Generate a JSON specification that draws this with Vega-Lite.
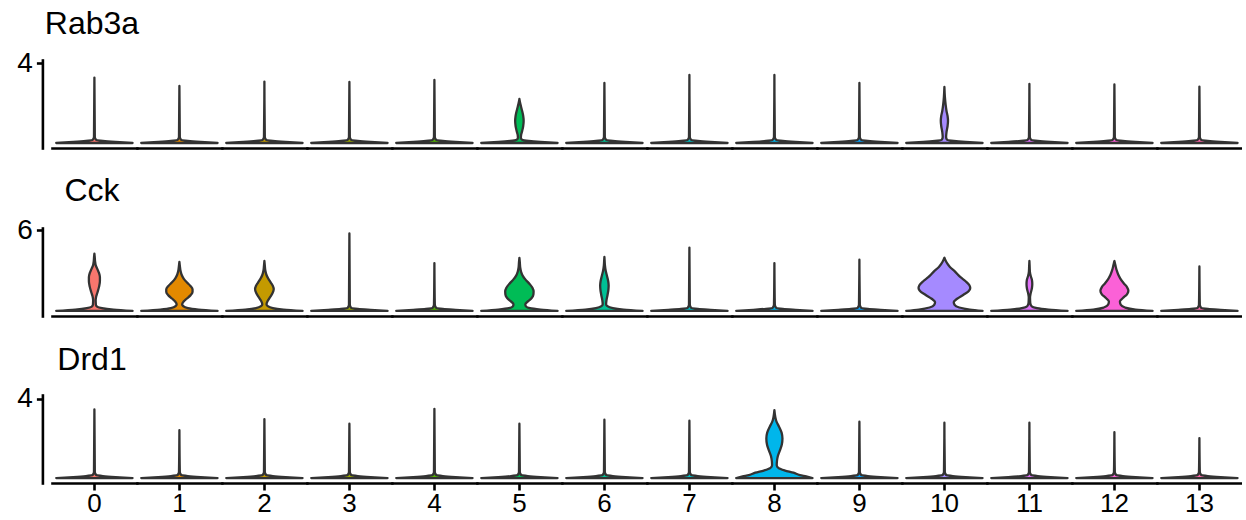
{
 "$schema": "https://vega.github.io/schema/vega-lite/v6.json",
 "padding": {"left": 16, "top": 8, "right": 0, "bottom": 2},
 "background": "white",
 "config": {"view": {"stroke": null}, "font": "Liberation Sans",
  "axis": {"labelFont": "Liberation Sans", "labelColor": "black", "domainColor": "black", "tickColor": "black", "grid": false, "title": null, "domainCap": "square"}},
 "spacing": 27,
 "datasets": {"violins": [
{"gene":"Rab3a","cluster":0,"expr":0,"width":0.9},{"gene":"Rab3a","cluster":0,"expr":0.05,"width":0.5},{"gene":"Rab3a","cluster":0,"expr":0.1,"width":0.2},{"gene":"Rab3a","cluster":0,"expr":0.16,"width":0.04},{"gene":"Rab3a","cluster":0,"expr":0.3,"width":0.01},{"gene":"Rab3a","cluster":0,"expr":3.27,"width":0},
{"gene":"Rab3a","cluster":1,"expr":0,"width":0.9},{"gene":"Rab3a","cluster":1,"expr":0.05,"width":0.5},{"gene":"Rab3a","cluster":1,"expr":0.1,"width":0.2},{"gene":"Rab3a","cluster":1,"expr":0.16,"width":0.04},{"gene":"Rab3a","cluster":1,"expr":0.3,"width":0.01},{"gene":"Rab3a","cluster":1,"expr":2.85,"width":0},
{"gene":"Rab3a","cluster":2,"expr":0,"width":0.9},{"gene":"Rab3a","cluster":2,"expr":0.05,"width":0.5},{"gene":"Rab3a","cluster":2,"expr":0.1,"width":0.2},{"gene":"Rab3a","cluster":2,"expr":0.16,"width":0.04},{"gene":"Rab3a","cluster":2,"expr":0.3,"width":0.01},{"gene":"Rab3a","cluster":2,"expr":3.07,"width":0},
{"gene":"Rab3a","cluster":3,"expr":0,"width":0.9},{"gene":"Rab3a","cluster":3,"expr":0.05,"width":0.5},{"gene":"Rab3a","cluster":3,"expr":0.1,"width":0.2},{"gene":"Rab3a","cluster":3,"expr":0.16,"width":0.04},{"gene":"Rab3a","cluster":3,"expr":0.3,"width":0.01},{"gene":"Rab3a","cluster":3,"expr":3.05,"width":0},
{"gene":"Rab3a","cluster":4,"expr":0,"width":0.9},{"gene":"Rab3a","cluster":4,"expr":0.05,"width":0.5},{"gene":"Rab3a","cluster":4,"expr":0.1,"width":0.2},{"gene":"Rab3a","cluster":4,"expr":0.16,"width":0.04},{"gene":"Rab3a","cluster":4,"expr":0.3,"width":0.01},{"gene":"Rab3a","cluster":4,"expr":3.15,"width":0},
{"gene":"Rab3a","cluster":5,"expr":0,"width":0.9},{"gene":"Rab3a","cluster":5,"expr":0.05,"width":0.5},{"gene":"Rab3a","cluster":5,"expr":0.1,"width":0.22},{"gene":"Rab3a","cluster":5,"expr":0.17,"width":0.06},{"gene":"Rab3a","cluster":5,"expr":0.25,"width":0.035},{"gene":"Rab3a","cluster":5,"expr":0.4,"width":0.04},{"gene":"Rab3a","cluster":5,"expr":0.6,"width":0.065},{"gene":"Rab3a","cluster":5,"expr":0.85,"width":0.09},{"gene":"Rab3a","cluster":5,"expr":1.1,"width":0.1},{"gene":"Rab3a","cluster":5,"expr":1.35,"width":0.09},{"gene":"Rab3a","cluster":5,"expr":1.6,"width":0.065},{"gene":"Rab3a","cluster":5,"expr":1.85,"width":0.035},{"gene":"Rab3a","cluster":5,"expr":2.0,"width":0.018},{"gene":"Rab3a","cluster":5,"expr":2.2,"width":0},
{"gene":"Rab3a","cluster":6,"expr":0,"width":0.9},{"gene":"Rab3a","cluster":6,"expr":0.05,"width":0.5},{"gene":"Rab3a","cluster":6,"expr":0.1,"width":0.2},{"gene":"Rab3a","cluster":6,"expr":0.16,"width":0.04},{"gene":"Rab3a","cluster":6,"expr":0.3,"width":0.01},{"gene":"Rab3a","cluster":6,"expr":3.0,"width":0},
{"gene":"Rab3a","cluster":7,"expr":0,"width":0.9},{"gene":"Rab3a","cluster":7,"expr":0.05,"width":0.5},{"gene":"Rab3a","cluster":7,"expr":0.1,"width":0.2},{"gene":"Rab3a","cluster":7,"expr":0.16,"width":0.04},{"gene":"Rab3a","cluster":7,"expr":0.3,"width":0.01},{"gene":"Rab3a","cluster":7,"expr":3.4,"width":0},
{"gene":"Rab3a","cluster":8,"expr":0,"width":0.9},{"gene":"Rab3a","cluster":8,"expr":0.05,"width":0.5},{"gene":"Rab3a","cluster":8,"expr":0.1,"width":0.2},{"gene":"Rab3a","cluster":8,"expr":0.16,"width":0.04},{"gene":"Rab3a","cluster":8,"expr":0.3,"width":0.01},{"gene":"Rab3a","cluster":8,"expr":3.4,"width":0},
{"gene":"Rab3a","cluster":9,"expr":0,"width":0.9},{"gene":"Rab3a","cluster":9,"expr":0.05,"width":0.5},{"gene":"Rab3a","cluster":9,"expr":0.1,"width":0.2},{"gene":"Rab3a","cluster":9,"expr":0.16,"width":0.04},{"gene":"Rab3a","cluster":9,"expr":0.3,"width":0.01},{"gene":"Rab3a","cluster":9,"expr":3.0,"width":0},
{"gene":"Rab3a","cluster":10,"expr":0,"width":0.9},{"gene":"Rab3a","cluster":10,"expr":0.05,"width":0.5},{"gene":"Rab3a","cluster":10,"expr":0.1,"width":0.22},{"gene":"Rab3a","cluster":10,"expr":0.17,"width":0.06},{"gene":"Rab3a","cluster":10,"expr":0.3,"width":0.04},{"gene":"Rab3a","cluster":10,"expr":0.55,"width":0.05},{"gene":"Rab3a","cluster":10,"expr":0.85,"width":0.075},{"gene":"Rab3a","cluster":10,"expr":1.1,"width":0.085},{"gene":"Rab3a","cluster":10,"expr":1.35,"width":0.075},{"gene":"Rab3a","cluster":10,"expr":1.6,"width":0.05},{"gene":"Rab3a","cluster":10,"expr":1.9,"width":0.03},{"gene":"Rab3a","cluster":10,"expr":2.3,"width":0.012},{"gene":"Rab3a","cluster":10,"expr":2.8,"width":0},
{"gene":"Rab3a","cluster":11,"expr":0,"width":0.9},{"gene":"Rab3a","cluster":11,"expr":0.05,"width":0.5},{"gene":"Rab3a","cluster":11,"expr":0.1,"width":0.2},{"gene":"Rab3a","cluster":11,"expr":0.16,"width":0.04},{"gene":"Rab3a","cluster":11,"expr":0.3,"width":0.01},{"gene":"Rab3a","cluster":11,"expr":2.95,"width":0},
{"gene":"Rab3a","cluster":12,"expr":0,"width":0.9},{"gene":"Rab3a","cluster":12,"expr":0.05,"width":0.5},{"gene":"Rab3a","cluster":12,"expr":0.1,"width":0.2},{"gene":"Rab3a","cluster":12,"expr":0.16,"width":0.04},{"gene":"Rab3a","cluster":12,"expr":0.3,"width":0.01},{"gene":"Rab3a","cluster":12,"expr":2.93,"width":0},
{"gene":"Rab3a","cluster":13,"expr":0,"width":0.9},{"gene":"Rab3a","cluster":13,"expr":0.05,"width":0.5},{"gene":"Rab3a","cluster":13,"expr":0.1,"width":0.2},{"gene":"Rab3a","cluster":13,"expr":0.16,"width":0.04},{"gene":"Rab3a","cluster":13,"expr":0.3,"width":0.01},{"gene":"Rab3a","cluster":13,"expr":2.82,"width":0},

{"gene":"Cck","cluster":0,"expr":0,"width":0.9},{"gene":"Cck","cluster":0,"expr":0.1,"width":0.45},{"gene":"Cck","cluster":0,"expr":0.2,"width":0.18},{"gene":"Cck","cluster":0,"expr":0.3,"width":0.07},{"gene":"Cck","cluster":0,"expr":0.45,"width":0.035},{"gene":"Cck","cluster":0,"expr":0.8,"width":0.03},{"gene":"Cck","cluster":0,"expr":1.1,"width":0.045},{"gene":"Cck","cluster":0,"expr":1.4,"width":0.075},{"gene":"Cck","cluster":0,"expr":1.8,"width":0.11},{"gene":"Cck","cluster":0,"expr":2.2,"width":0.13},{"gene":"Cck","cluster":0,"expr":2.5,"width":0.13},{"gene":"Cck","cluster":0,"expr":2.8,"width":0.11},{"gene":"Cck","cluster":0,"expr":3.1,"width":0.07},{"gene":"Cck","cluster":0,"expr":3.4,"width":0.03},{"gene":"Cck","cluster":0,"expr":3.7,"width":0.015},{"gene":"Cck","cluster":0,"expr":4.0,"width":0.008},{"gene":"Cck","cluster":0,"expr":4.24,"width":0},
{"gene":"Cck","cluster":1,"expr":0,"width":0.9},{"gene":"Cck","cluster":1,"expr":0.1,"width":0.45},{"gene":"Cck","cluster":1,"expr":0.2,"width":0.2},{"gene":"Cck","cluster":1,"expr":0.35,"width":0.09},{"gene":"Cck","cluster":1,"expr":0.5,"width":0.065},{"gene":"Cck","cluster":1,"expr":0.7,"width":0.1},{"gene":"Cck","cluster":1,"expr":0.9,"width":0.17},{"gene":"Cck","cluster":1,"expr":1.15,"width":0.26},{"gene":"Cck","cluster":1,"expr":1.4,"width":0.31},{"gene":"Cck","cluster":1,"expr":1.6,"width":0.31},{"gene":"Cck","cluster":1,"expr":1.85,"width":0.26},{"gene":"Cck","cluster":1,"expr":2.1,"width":0.18},{"gene":"Cck","cluster":1,"expr":2.4,"width":0.1},{"gene":"Cck","cluster":1,"expr":2.7,"width":0.05},{"gene":"Cck","cluster":1,"expr":3.0,"width":0.025},{"gene":"Cck","cluster":1,"expr":3.3,"width":0.012},{"gene":"Cck","cluster":1,"expr":3.64,"width":0},
{"gene":"Cck","cluster":2,"expr":0,"width":0.9},{"gene":"Cck","cluster":2,"expr":0.1,"width":0.45},{"gene":"Cck","cluster":2,"expr":0.2,"width":0.2},{"gene":"Cck","cluster":2,"expr":0.35,"width":0.08},{"gene":"Cck","cluster":2,"expr":0.5,"width":0.05},{"gene":"Cck","cluster":2,"expr":0.75,"width":0.08},{"gene":"Cck","cluster":2,"expr":1.0,"width":0.13},{"gene":"Cck","cluster":2,"expr":1.3,"width":0.19},{"gene":"Cck","cluster":2,"expr":1.6,"width":0.22},{"gene":"Cck","cluster":2,"expr":1.85,"width":0.2},{"gene":"Cck","cluster":2,"expr":2.1,"width":0.15},{"gene":"Cck","cluster":2,"expr":2.4,"width":0.09},{"gene":"Cck","cluster":2,"expr":2.7,"width":0.045},{"gene":"Cck","cluster":2,"expr":3.0,"width":0.022},{"gene":"Cck","cluster":2,"expr":3.35,"width":0.01},{"gene":"Cck","cluster":2,"expr":3.7,"width":0},
{"gene":"Cck","cluster":3,"expr":0,"width":0.9},{"gene":"Cck","cluster":3,"expr":0.08,"width":0.5},{"gene":"Cck","cluster":3,"expr":0.15,"width":0.2},{"gene":"Cck","cluster":3,"expr":0.24,"width":0.04},{"gene":"Cck","cluster":3,"expr":0.45,"width":0.01},{"gene":"Cck","cluster":3,"expr":5.75,"width":0},
{"gene":"Cck","cluster":4,"expr":0,"width":0.9},{"gene":"Cck","cluster":4,"expr":0.08,"width":0.5},{"gene":"Cck","cluster":4,"expr":0.15,"width":0.2},{"gene":"Cck","cluster":4,"expr":0.24,"width":0.04},{"gene":"Cck","cluster":4,"expr":0.45,"width":0.01},{"gene":"Cck","cluster":4,"expr":3.55,"width":0},
{"gene":"Cck","cluster":5,"expr":0,"width":0.9},{"gene":"Cck","cluster":5,"expr":0.1,"width":0.5},{"gene":"Cck","cluster":5,"expr":0.2,"width":0.25},{"gene":"Cck","cluster":5,"expr":0.35,"width":0.15},{"gene":"Cck","cluster":5,"expr":0.5,"width":0.14},{"gene":"Cck","cluster":5,"expr":0.7,"width":0.2},{"gene":"Cck","cluster":5,"expr":0.95,"width":0.29},{"gene":"Cck","cluster":5,"expr":1.2,"width":0.33},{"gene":"Cck","cluster":5,"expr":1.45,"width":0.335},{"gene":"Cck","cluster":5,"expr":1.7,"width":0.31},{"gene":"Cck","cluster":5,"expr":2.0,"width":0.24},{"gene":"Cck","cluster":5,"expr":2.3,"width":0.15},{"gene":"Cck","cluster":5,"expr":2.6,"width":0.08},{"gene":"Cck","cluster":5,"expr":2.9,"width":0.04},{"gene":"Cck","cluster":5,"expr":3.2,"width":0.02},{"gene":"Cck","cluster":5,"expr":3.6,"width":0.01},{"gene":"Cck","cluster":5,"expr":3.94,"width":0},
{"gene":"Cck","cluster":6,"expr":0,"width":0.9},{"gene":"Cck","cluster":6,"expr":0.1,"width":0.45},{"gene":"Cck","cluster":6,"expr":0.2,"width":0.2},{"gene":"Cck","cluster":6,"expr":0.35,"width":0.07},{"gene":"Cck","cluster":6,"expr":0.5,"width":0.04},{"gene":"Cck","cluster":6,"expr":0.8,"width":0.05},{"gene":"Cck","cluster":6,"expr":1.2,"width":0.075},{"gene":"Cck","cluster":6,"expr":1.6,"width":0.095},{"gene":"Cck","cluster":6,"expr":1.9,"width":0.1},{"gene":"Cck","cluster":6,"expr":2.2,"width":0.09},{"gene":"Cck","cluster":6,"expr":2.6,"width":0.06},{"gene":"Cck","cluster":6,"expr":3.0,"width":0.03},{"gene":"Cck","cluster":6,"expr":3.4,"width":0.012},{"gene":"Cck","cluster":6,"expr":3.7,"width":0.006},{"gene":"Cck","cluster":6,"expr":4.0,"width":0},
{"gene":"Cck","cluster":7,"expr":0,"width":0.9},{"gene":"Cck","cluster":7,"expr":0.08,"width":0.5},{"gene":"Cck","cluster":7,"expr":0.15,"width":0.2},{"gene":"Cck","cluster":7,"expr":0.24,"width":0.04},{"gene":"Cck","cluster":7,"expr":0.45,"width":0.01},{"gene":"Cck","cluster":7,"expr":4.7,"width":0},
{"gene":"Cck","cluster":8,"expr":0,"width":0.9},{"gene":"Cck","cluster":8,"expr":0.08,"width":0.5},{"gene":"Cck","cluster":8,"expr":0.15,"width":0.2},{"gene":"Cck","cluster":8,"expr":0.24,"width":0.04},{"gene":"Cck","cluster":8,"expr":0.45,"width":0.01},{"gene":"Cck","cluster":8,"expr":3.55,"width":0},
{"gene":"Cck","cluster":9,"expr":0,"width":0.9},{"gene":"Cck","cluster":9,"expr":0.08,"width":0.5},{"gene":"Cck","cluster":9,"expr":0.15,"width":0.2},{"gene":"Cck","cluster":9,"expr":0.24,"width":0.04},{"gene":"Cck","cluster":9,"expr":0.45,"width":0.01},{"gene":"Cck","cluster":9,"expr":3.8,"width":0},
{"gene":"Cck","cluster":10,"expr":0,"width":0.9},{"gene":"Cck","cluster":10,"expr":0.1,"width":0.6},{"gene":"Cck","cluster":10,"expr":0.25,"width":0.35},{"gene":"Cck","cluster":10,"expr":0.45,"width":0.24},{"gene":"Cck","cluster":10,"expr":0.65,"width":0.22},{"gene":"Cck","cluster":10,"expr":0.9,"width":0.3},{"gene":"Cck","cluster":10,"expr":1.2,"width":0.45},{"gene":"Cck","cluster":10,"expr":1.5,"width":0.58},{"gene":"Cck","cluster":10,"expr":1.7,"width":0.61},{"gene":"Cck","cluster":10,"expr":1.9,"width":0.59},{"gene":"Cck","cluster":10,"expr":2.2,"width":0.5},{"gene":"Cck","cluster":10,"expr":2.5,"width":0.38},{"gene":"Cck","cluster":10,"expr":2.95,"width":0.24},{"gene":"Cck","cluster":10,"expr":3.25,"width":0.13},{"gene":"Cck","cluster":10,"expr":3.5,"width":0.07},{"gene":"Cck","cluster":10,"expr":3.75,"width":0.025},{"gene":"Cck","cluster":10,"expr":3.94,"width":0},
{"gene":"Cck","cluster":11,"expr":0,"width":0.9},{"gene":"Cck","cluster":11,"expr":0.1,"width":0.45},{"gene":"Cck","cluster":11,"expr":0.2,"width":0.18},{"gene":"Cck","cluster":11,"expr":0.35,"width":0.05},{"gene":"Cck","cluster":11,"expr":0.6,"width":0.02},{"gene":"Cck","cluster":11,"expr":1.0,"width":0.015},{"gene":"Cck","cluster":11,"expr":1.3,"width":0.03},{"gene":"Cck","cluster":11,"expr":1.7,"width":0.06},{"gene":"Cck","cluster":11,"expr":2.0,"width":0.068},{"gene":"Cck","cluster":11,"expr":2.3,"width":0.06},{"gene":"Cck","cluster":11,"expr":2.6,"width":0.03},{"gene":"Cck","cluster":11,"expr":2.9,"width":0.012},{"gene":"Cck","cluster":11,"expr":3.3,"width":0.006},{"gene":"Cck","cluster":11,"expr":3.7,"width":0},
{"gene":"Cck","cluster":12,"expr":0,"width":0.9},{"gene":"Cck","cluster":12,"expr":0.1,"width":0.5},{"gene":"Cck","cluster":12,"expr":0.25,"width":0.25},{"gene":"Cck","cluster":12,"expr":0.45,"width":0.15},{"gene":"Cck","cluster":12,"expr":0.7,"width":0.13},{"gene":"Cck","cluster":12,"expr":0.95,"width":0.2},{"gene":"Cck","cluster":12,"expr":1.25,"width":0.3},{"gene":"Cck","cluster":12,"expr":1.5,"width":0.33},{"gene":"Cck","cluster":12,"expr":1.75,"width":0.3},{"gene":"Cck","cluster":12,"expr":2.05,"width":0.22},{"gene":"Cck","cluster":12,"expr":2.4,"width":0.14},{"gene":"Cck","cluster":12,"expr":2.7,"width":0.09},{"gene":"Cck","cluster":12,"expr":3.0,"width":0.055},{"gene":"Cck","cluster":12,"expr":3.3,"width":0.03},{"gene":"Cck","cluster":12,"expr":3.5,"width":0.015},{"gene":"Cck","cluster":12,"expr":3.7,"width":0},
{"gene":"Cck","cluster":13,"expr":0,"width":0.9},{"gene":"Cck","cluster":13,"expr":0.08,"width":0.5},{"gene":"Cck","cluster":13,"expr":0.15,"width":0.2},{"gene":"Cck","cluster":13,"expr":0.24,"width":0.04},{"gene":"Cck","cluster":13,"expr":0.45,"width":0.01},{"gene":"Cck","cluster":13,"expr":3.3,"width":0},

{"gene":"Drd1","cluster":0,"expr":0,"width":0.9},{"gene":"Drd1","cluster":0,"expr":0.05,"width":0.5},{"gene":"Drd1","cluster":0,"expr":0.1,"width":0.2},{"gene":"Drd1","cluster":0,"expr":0.16,"width":0.04},{"gene":"Drd1","cluster":0,"expr":0.3,"width":0.01},{"gene":"Drd1","cluster":0,"expr":3.47,"width":0},
{"gene":"Drd1","cluster":1,"expr":0,"width":0.9},{"gene":"Drd1","cluster":1,"expr":0.05,"width":0.5},{"gene":"Drd1","cluster":1,"expr":0.1,"width":0.2},{"gene":"Drd1","cluster":1,"expr":0.16,"width":0.04},{"gene":"Drd1","cluster":1,"expr":0.3,"width":0.01},{"gene":"Drd1","cluster":1,"expr":2.42,"width":0},
{"gene":"Drd1","cluster":2,"expr":0,"width":0.9},{"gene":"Drd1","cluster":2,"expr":0.05,"width":0.5},{"gene":"Drd1","cluster":2,"expr":0.1,"width":0.2},{"gene":"Drd1","cluster":2,"expr":0.16,"width":0.04},{"gene":"Drd1","cluster":2,"expr":0.3,"width":0.01},{"gene":"Drd1","cluster":2,"expr":2.98,"width":0},
{"gene":"Drd1","cluster":3,"expr":0,"width":0.9},{"gene":"Drd1","cluster":3,"expr":0.05,"width":0.5},{"gene":"Drd1","cluster":3,"expr":0.1,"width":0.2},{"gene":"Drd1","cluster":3,"expr":0.16,"width":0.04},{"gene":"Drd1","cluster":3,"expr":0.3,"width":0.01},{"gene":"Drd1","cluster":3,"expr":2.75,"width":0},
{"gene":"Drd1","cluster":4,"expr":0,"width":0.9},{"gene":"Drd1","cluster":4,"expr":0.05,"width":0.5},{"gene":"Drd1","cluster":4,"expr":0.1,"width":0.2},{"gene":"Drd1","cluster":4,"expr":0.16,"width":0.04},{"gene":"Drd1","cluster":4,"expr":0.3,"width":0.01},{"gene":"Drd1","cluster":4,"expr":3.5,"width":0},
{"gene":"Drd1","cluster":5,"expr":0,"width":0.9},{"gene":"Drd1","cluster":5,"expr":0.05,"width":0.5},{"gene":"Drd1","cluster":5,"expr":0.1,"width":0.2},{"gene":"Drd1","cluster":5,"expr":0.16,"width":0.04},{"gene":"Drd1","cluster":5,"expr":0.3,"width":0.01},{"gene":"Drd1","cluster":5,"expr":2.75,"width":0},
{"gene":"Drd1","cluster":6,"expr":0,"width":0.9},{"gene":"Drd1","cluster":6,"expr":0.05,"width":0.5},{"gene":"Drd1","cluster":6,"expr":0.1,"width":0.2},{"gene":"Drd1","cluster":6,"expr":0.16,"width":0.04},{"gene":"Drd1","cluster":6,"expr":0.3,"width":0.01},{"gene":"Drd1","cluster":6,"expr":2.95,"width":0},
{"gene":"Drd1","cluster":7,"expr":0,"width":0.9},{"gene":"Drd1","cluster":7,"expr":0.05,"width":0.5},{"gene":"Drd1","cluster":7,"expr":0.1,"width":0.2},{"gene":"Drd1","cluster":7,"expr":0.16,"width":0.04},{"gene":"Drd1","cluster":7,"expr":0.3,"width":0.01},{"gene":"Drd1","cluster":7,"expr":2.9,"width":0},
{"gene":"Drd1","cluster":8,"expr":0,"width":0.9},{"gene":"Drd1","cluster":8,"expr":0.08,"width":0.75},{"gene":"Drd1","cluster":8,"expr":0.15,"width":0.6},{"gene":"Drd1","cluster":8,"expr":0.27,"width":0.45},{"gene":"Drd1","cluster":8,"expr":0.38,"width":0.25},{"gene":"Drd1","cluster":8,"expr":0.5,"width":0.1},{"gene":"Drd1","cluster":8,"expr":0.65,"width":0.055},{"gene":"Drd1","cluster":8,"expr":0.85,"width":0.06},{"gene":"Drd1","cluster":8,"expr":1.1,"width":0.08},{"gene":"Drd1","cluster":8,"expr":1.4,"width":0.13},{"gene":"Drd1","cluster":8,"expr":1.7,"width":0.175},{"gene":"Drd1","cluster":8,"expr":2.0,"width":0.19},{"gene":"Drd1","cluster":8,"expr":2.3,"width":0.17},{"gene":"Drd1","cluster":8,"expr":2.6,"width":0.11},{"gene":"Drd1","cluster":8,"expr":2.85,"width":0.05},{"gene":"Drd1","cluster":8,"expr":3.1,"width":0.02},{"gene":"Drd1","cluster":8,"expr":3.43,"width":0},
{"gene":"Drd1","cluster":9,"expr":0,"width":0.9},{"gene":"Drd1","cluster":9,"expr":0.05,"width":0.5},{"gene":"Drd1","cluster":9,"expr":0.1,"width":0.2},{"gene":"Drd1","cluster":9,"expr":0.16,"width":0.04},{"gene":"Drd1","cluster":9,"expr":0.3,"width":0.01},{"gene":"Drd1","cluster":9,"expr":2.85,"width":0},
{"gene":"Drd1","cluster":10,"expr":0,"width":0.9},{"gene":"Drd1","cluster":10,"expr":0.05,"width":0.5},{"gene":"Drd1","cluster":10,"expr":0.1,"width":0.2},{"gene":"Drd1","cluster":10,"expr":0.16,"width":0.04},{"gene":"Drd1","cluster":10,"expr":0.3,"width":0.01},{"gene":"Drd1","cluster":10,"expr":2.8,"width":0},
{"gene":"Drd1","cluster":11,"expr":0,"width":0.9},{"gene":"Drd1","cluster":11,"expr":0.05,"width":0.5},{"gene":"Drd1","cluster":11,"expr":0.1,"width":0.2},{"gene":"Drd1","cluster":11,"expr":0.16,"width":0.04},{"gene":"Drd1","cluster":11,"expr":0.3,"width":0.01},{"gene":"Drd1","cluster":11,"expr":2.8,"width":0},
{"gene":"Drd1","cluster":12,"expr":0,"width":0.9},{"gene":"Drd1","cluster":12,"expr":0.05,"width":0.5},{"gene":"Drd1","cluster":12,"expr":0.1,"width":0.2},{"gene":"Drd1","cluster":12,"expr":0.16,"width":0.04},{"gene":"Drd1","cluster":12,"expr":0.3,"width":0.01},{"gene":"Drd1","cluster":12,"expr":2.32,"width":0},
{"gene":"Drd1","cluster":13,"expr":0,"width":0.9},{"gene":"Drd1","cluster":13,"expr":0.05,"width":0.5},{"gene":"Drd1","cluster":13,"expr":0.1,"width":0.2},{"gene":"Drd1","cluster":13,"expr":0.16,"width":0.04},{"gene":"Drd1","cluster":13,"expr":0.3,"width":0.01},{"gene":"Drd1","cluster":13,"expr":2.02,"width":0}
 ]},
 "vconcat": [
  {
   "data": {"name": "violins"},
   "transform": [{"filter": "datum.gene === 'Rab3a'"}, {"stack": "width", "groupby": ["gene", "cluster", "expr"], "offset": "center", "as": ["x0", "x1"]}],
   "title": {"text": "Rab3a", "anchor": "start", "frame": "group", "align": "center", "dx": 40, "fontSize": 32, "fontWeight": "normal", "color": "black", "font": "Liberation Sans", "offset": 8},
   "facet": {"column": {"field": "cluster", "type": "ordinal", "header": {"labels": false, "title": null}}},
   "spacing": 0,
   "spec": {
    "width": 84.8, "height": 88,
    "mark": {"type": "area", "orient": "horizontal", "interpolate": "monotone", "stroke": "#333333", "strokeWidth": 2.3, "strokeJoin": "round"},
    "encoding": {
     "y": {"field": "expr", "type": "quantitative", "scale": {"domain": [-0.25, 4.15], "nice": false, "zero": false},
      "axis": {"values": [4], "offset": 9.6, "domainWidth": 2.6, "tickWidth": 2.6, "tickSize": 6, "labelFontSize": 28, "labelPadding": 4}},
     "x": {"field": "x0", "type": "quantitative", "scale": {"domain": [-0.05, 0.95], "nice": false, "zero": false},
      "axis": {"labels": false, "ticks": false, "domainWidth": 2.6}},
     "x2": {"field": "x1"},
     "color": {"field": "cluster", "type": "nominal", "legend": null,
      "scale": {"domain": [0,1,2,3,4,5,6,7,8,9,10,11,12,13], "range": ["#F8766D","#E38900","#C49A00","#99A800","#53B400","#00BC56","#00C094","#00BFC4","#00B6EB","#06A4FF","#A58AFF","#DF70F8","#FB61D7","#FF66A8"]}}
    }
   }
  },
  {
   "data": {"name": "violins"},
   "transform": [{"filter": "datum.gene === 'Cck'"}, {"stack": "width", "groupby": ["gene", "cluster", "expr"], "offset": "center", "as": ["x0", "x1"]}],
   "title": {"text": "Cck", "anchor": "start", "frame": "group", "align": "center", "dx": 40, "fontSize": 32, "fontWeight": "normal", "color": "black", "font": "Liberation Sans", "offset": 8},
   "facet": {"column": {"field": "cluster", "type": "ordinal", "header": {"labels": false, "title": null}}},
   "spacing": 0,
   "spec": {
    "width": 84.8, "height": 88,
    "mark": {"type": "area", "orient": "horizontal", "interpolate": "monotone", "stroke": "#333333", "strokeWidth": 2.3, "strokeJoin": "round"},
    "encoding": {
     "y": {"field": "expr", "type": "quantitative", "scale": {"domain": [-0.38, 6.15], "nice": false, "zero": false},
      "axis": {"values": [6], "offset": 9.6, "domainWidth": 2.6, "tickWidth": 2.6, "tickSize": 6, "labelFontSize": 28, "labelPadding": 4}},
     "x": {"field": "x0", "type": "quantitative", "scale": {"domain": [-0.05, 0.95], "nice": false, "zero": false},
      "axis": {"labels": false, "ticks": false, "domainWidth": 2.6}},
     "x2": {"field": "x1"},
     "color": {"field": "cluster", "type": "nominal", "legend": null,
      "scale": {"domain": [0,1,2,3,4,5,6,7,8,9,10,11,12,13], "range": ["#F8766D","#E38900","#C49A00","#99A800","#53B400","#00BC56","#00C094","#00BFC4","#00B6EB","#06A4FF","#A58AFF","#DF70F8","#FB61D7","#FF66A8"]}}
    }
   }
  },
  {
   "data": {"name": "violins"},
   "transform": [{"filter": "datum.gene === 'Drd1'"}, {"stack": "width", "groupby": ["gene", "cluster", "expr"], "offset": "center", "as": ["x0", "x1"]}],
   "title": {"text": "Drd1", "anchor": "start", "frame": "group", "align": "center", "dx": 40, "fontSize": 32, "fontWeight": "normal", "color": "black", "font": "Liberation Sans", "offset": 8},
   "facet": {"column": {"field": "cluster", "type": "ordinal", "header": {"title": null, "labelOrient": "bottom", "labelFontSize": 26, "labelFont": "Liberation Sans", "labelColor": "black", "labelPadding": 0}}},
   "spacing": 0,
   "spec": {
    "width": 84.8, "height": 88,
    "mark": {"type": "area", "orient": "horizontal", "interpolate": "monotone", "stroke": "#333333", "strokeWidth": 2.3, "strokeJoin": "round"},
    "encoding": {
     "y": {"field": "expr", "type": "quantitative", "scale": {"domain": [-0.25, 4.2], "nice": false, "zero": false},
      "axis": {"values": [4], "offset": 9.6, "domainWidth": 2.6, "tickWidth": 2.6, "tickSize": 6, "labelFontSize": 28, "labelPadding": 4}},
     "x": {"field": "x0", "type": "quantitative", "scale": {"domain": [-0.05, 0.95], "nice": false, "zero": false},
      "axis": {"labels": false, "values": [0.45], "ticks": true, "tickWidth": 2.6, "tickSize": 7, "domainWidth": 2.6}},
     "x2": {"field": "x1"},
     "color": {"field": "cluster", "type": "nominal", "legend": null,
      "scale": {"domain": [0,1,2,3,4,5,6,7,8,9,10,11,12,13], "range": ["#F8766D","#E38900","#C49A00","#99A800","#53B400","#00BC56","#00C094","#00BFC4","#00B6EB","#06A4FF","#A58AFF","#DF70F8","#FB61D7","#FF66A8"]}}
    }
   }
  }
 ]
}
